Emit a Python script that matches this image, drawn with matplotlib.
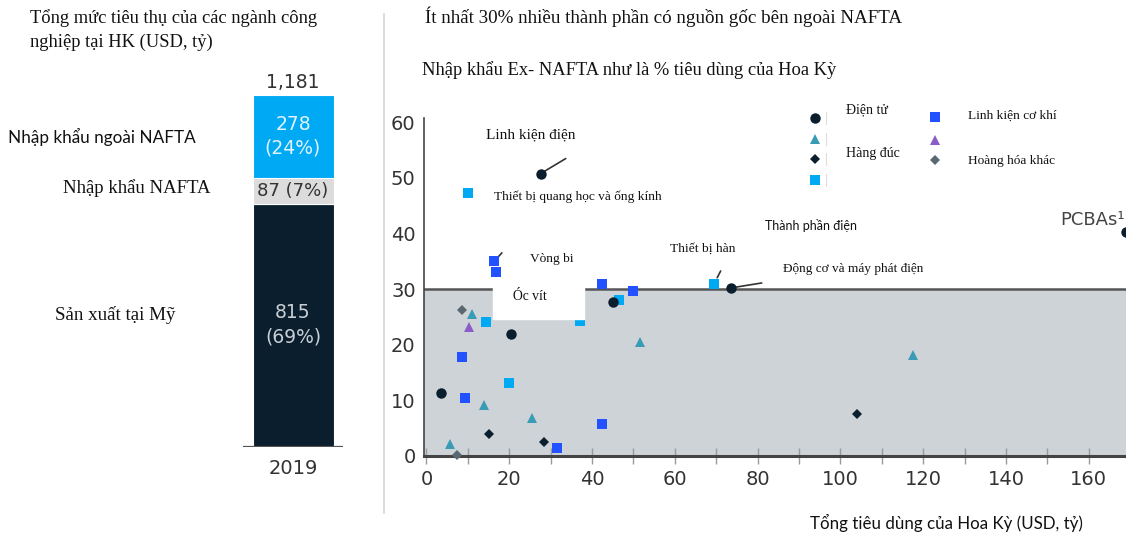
import matplotlib
matplotlib.use("Agg")
import matplotlib.pyplot as plt
from matplotlib.patches import Rectangle

# ---- data -------------------------------------------------------------
bar_year = "2019"
bar_segments = ["Sản xuất tại Mỹ", "Nhập khẩu NAFTA", "Nhập khẩu ngoài NAFTA"]
bar_values = [815, 87, 278]
bar_pcts = [69, 7, 24]
bar_total = 1181

# consumption (USD bn) vs ex-NAFTA import share (%)
dien_tu_x = [3.6, 20.4, 27.6, 45.1, 73.5, 169.0]
dien_tu_y = [11.2, 22.0, 50.8, 27.6, 30.2, 40.3]

co_khi_x = [8.55, 9.35, 16.4, 16.8, 31.5, 42.4, 42.4, 50.0]
co_khi_y = [17.8, 10.4, 35.0, 33.0, 1.3, 31.0, 5.7, 29.7]

dien_sq_x = [10.1, 14.3, 19.9, 37.1, 46.5, 69.5]
dien_sq_y = [47.3, 24.1, 13.0, 24.2, 28.1, 31.0]

teal_x = [5.7, 11.1, 13.9, 25.5, 51.5, 117.6]
teal_y = [2.1, 25.6, 9.2, 6.8, 20.4, 18.1]

purple_x = [10.3]
purple_y = [23.1]

hang_duc_x = [15.2, 28.4, 104.0]
hang_duc_y = [3.9, 2.5, 7.5]

khac_x = [7.4, 8.6]
khac_y = [0.1, 26.2]

threshold = 30
x_ticks = [0, 20, 40, 60, 80, 100, 120, 140, 160]
y_ticks = [0, 10, 20, 30, 40, 50, 60]

# ---- style ------------------------------------------------------------
W, H = 1126, 535
NAVY = "#0b1e2d"
BLUE = "#2251ff"
CYAN = "#00a9f4"
TEAL = "#3a9bb7"
PURPLE = "#8b5cc7"
SLATE = "#5a6872"
SHADE = "#cdd3d7"
SERIF = "Liberation Serif"
SANS = "DejaVu Sans"
HUMAN = "Lato"

fig = plt.figure(figsize=(W / 100, H / 100), dpi=100)


def frac(x0, y0, w, h):
    return [x0 / W, 1 - (y0 + h) / H, w / W, h / H]


# ---- stacked bar ------------------------------------------------------
axb = fig.add_axes(frac(243, 446.7 - 1300 * 0.2981, 100, 1300 * 0.2981))
axb.set_xlim(-0.5, 0.5)
axb.set_ylim(0, 1300)
axb.axis("off")
seg_colors = [NAVY, "#dcdcdc", CYAN]
bottom = 0
for val, col in zip(bar_values, seg_colors):
    axb.bar(0, val, bottom=bottom, width=0.81, color=col,
            edgecolor="white", linewidth=0.8)
    bottom += val
axb.axhline(0, xmin=0, xmax=1, color="#555555", lw=1.6)

b0 = bar_values[0]
b1 = bar_values[1]
b2 = bar_values[2]
axb.text(0, b0 / 2 + 43, f"{b0}", ha="center", va="center",
         fontsize=13.5, family=SANS, color="#c9cfd4")
axb.text(0, b0 / 2 - 41, f"({bar_pcts[0]}%)", ha="center", va="center",
         fontsize=13.5, family=SANS, color="#c9cfd4")
axb.text(0, b0 + b1 / 2, f"{b1} ({bar_pcts[1]}%)", ha="center", va="center",
         fontsize=13, family=SANS, color="#333333")
axb.text(0, b0 + b1 + b2 / 2 + 40, f"{b2}", ha="center", va="center",
         fontsize=13.5, family=SANS, color="#dff2ff")
axb.text(0, b0 + b1 + b2 / 2 - 40, f"({bar_pcts[2]}%)", ha="center",
         va="center", fontsize=13.5, family=SANS, color="#dff2ff")
axb.text(0, bar_total + 42, f"{bar_total:,}", ha="center", va="center",
         fontsize=13.5, family=SANS, color="#333333")
axb.text(0, -72, bar_year, ha="center", va="center",
         fontsize=14, family=SANS, color="#333333")

# ---- scatter ----------------------------------------------------------
ax = fig.add_axes(frac(424, 118, 702, 337.7))
ax.set_xlim(-0.6, 169)
ax.set_ylim(0, 60.8)
ax.axhspan(0, threshold, color=SHADE, zorder=0, lw=0)
ax.axhline(threshold, color="#555555", lw=1.8, zorder=1)

for s in ["top", "right"]:
    ax.spines[s].set_visible(False)
ax.spines["left"].set_color("#444444")
ax.spines["left"].set_linewidth(1.2)
ax.spines["bottom"].set_color("#444444")
ax.spines["bottom"].set_linewidth(2.2)

ax.set_xticks(x_ticks)
ax.set_xticks(range(10, 170, 20), minor=True)
ax.set_yticks(y_ticks)
ax.tick_params(axis="y", length=0, pad=6, labelsize=14, labelcolor="#333333")
ax.tick_params(axis="x", which="both", direction="inout", length=12,
               color="#9a9a9a", width=1, pad=4, labelsize=14,
               labelcolor="#333333")
for lab in ax.get_xticklabels() + ax.get_yticklabels():
    lab.set_family(SANS)

series = [
    (teal_x, teal_y, "^", TEAL, 7),
    (purple_x, purple_y, "^", PURPLE, 7),
    (khac_x, khac_y, "D", SLATE, 5),
    (hang_duc_x, hang_duc_y, "D", NAVY, 5),
    (dien_sq_x, dien_sq_y, "s", CYAN, 7),
    (co_khi_x, co_khi_y, "s", BLUE, 7),
    (dien_tu_x, dien_tu_y, "o", NAVY, 7.5),
]
for xs, ys, mk, col, ms in series:
    ax.plot(xs, ys, ls="none", marker=mk, color=col, ms=ms,
            mew=0, zorder=4, clip_on=False)

# leader lines from labelled points
leaders = [
    (dien_tu_x[2], dien_tu_y[2], 25, 15, 0),
    (dien_tu_x[4], dien_tu_y[4], 31, 5, 0),
    (co_khi_x[2], co_khi_y[2], 7.5, 8.5, 4),
    (dien_sq_x[5], dien_sq_y[5], 6.5, 12.5, 6.5),
]
for px, py, dx, dy, shrink in leaders:
    ax.annotate("", xy=(px, py), xytext=(dx, dy), textcoords="offset pixels",
                arrowprops=dict(arrowstyle="-", color="#333333", lw=1.2,
                                shrinkA=0, shrinkB=shrink * 0.72),
                zorder=3)

# ---- overlay for free text (pixel coordinates) -----------------------
ov = fig.add_axes([0, 0, 1, 1])
ov.set_xlim(0, W)
ov.set_ylim(H, 0)
ov.axis("off")
ov.patch.set_alpha(0)

# divider
ov.plot([384, 384], [14, 513], color="#d4d4d4", lw=1.2)

# left panel text
ov.text(30, 18, "Tổng mức tiêu thụ của các ngành công", fontsize=13.3,
        family=SERIF, va="center", ha="left", color="#111111")
ov.text(30, 42, "nghiệp tại HK (USD, tỷ)", fontsize=13.3,
        family=SERIF, va="center", ha="left", color="#111111")
ov.text(8, 137, bar_segments[2], fontsize=12.3, family=HUMAN,
        va="center", ha="left", color="#111111")
ov.text(63, 188, bar_segments[1], fontsize=13.5, family=SERIF,
        va="center", ha="left", color="#111111")
ov.text(55, 315, bar_segments[0], fontsize=13.7, family=SERIF,
        va="center", ha="left", color="#111111")

# scatter headings
ov.text(425, 17, "Ít nhất 30% nhiều thành phần có nguồn gốc bên ngoài NAFTA",
        fontsize=13.7, family=SERIF, va="center", ha="left", color="#111111")
ov.text(422, 70, "Nhập khẩu Ex- NAFTA như là % tiêu dùng của Hoa Kỳ",
        fontsize=13.3, family=SERIF, va="center", ha="left", color="#111111")
ov.text(810, 523, "Tổng tiêu dùng của Hoa Kỳ (USD, tỷ)", fontsize=12.2,
        family=HUMAN, va="center", ha="left", color="#111111")

# box hiding part of the chart behind a label
ov.add_patch(Rectangle((493, 287), 91, 32, color="white", zorder=5))

# point labels
point_labels = [
    (486, 135, "Linh kiện điện", SERIF, 11),
    (494, 197, "Thiết bị quang học và ống kính", SERIF, 9.65),
    (530, 259, "Vòng bi", SERIF, 9.6),
    (513, 297, "Óc vít", SERIF, 9.8),
    (670, 249, "Thiết bị hàn", SERIF, 9.7),
    (765, 226, "Thành phần điện", HUMAN, 9.0),
    (783, 269, "Động cơ và máy phát điện", SERIF, 9.5),
]
for tx, ty, txt, fam, fs in point_labels:
    ov.text(tx, ty, txt, fontsize=fs, family=fam, va="center", ha="left",
            color="#111111", zorder=6)
ov.text(1060, 220, "PCBAs¹", fontsize=13, family=SANS, va="center",
        ha="left", color="#444444", zorder=6)

# legend
legend_marks = [
    (815, 118, "o", NAVY, 7.5),
    (815, 139, "^", TEAL, 7),
    (815, 159, "D", NAVY, 5),
    (815, 180, "s", CYAN, 7),
    (935, 117, "s", BLUE, 7),
    (935, 140, "^", PURPLE, 7),
    (935, 160, "D", SLATE, 5),
]
for lx, ly, mk, col, ms in legend_marks:
    ov.plot([lx], [ly], marker=mk, color=col, ms=ms, mew=0, ls="none")
for ly in [118, 139, 159, 180]:
    ov.plot([826, 826], [ly - 6, ly + 6], color="#dddddd", lw=0.8)
legend_texts = [
    (846, 110, "Điện tử", 10),
    (846, 154, "Hàng đúc", 10),
    (968, 116, "Linh kiện cơ khí", 9.6),
    (968, 161, "Hoàng hóa khác", 9.6),
]
for tx, ty, txt, fs in legend_texts:
    ov.text(tx, ty, txt, fontsize=fs, family=SERIF, va="center", ha="left",
            color="#111111")

fig.savefig("out.png", dpi=100)
